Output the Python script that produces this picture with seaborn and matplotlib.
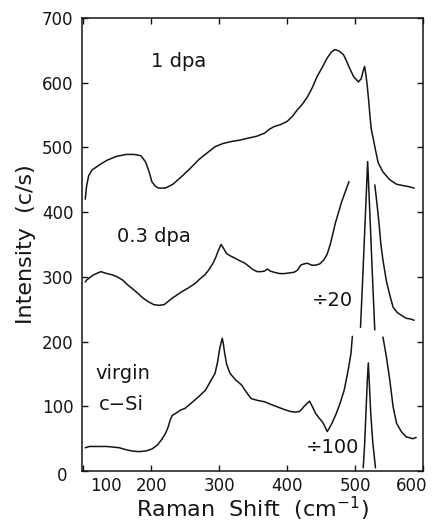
import pandas as pd
import seaborn as sns
import matplotlib
matplotlib.use("Agg")
import matplotlib.pyplot as plt
from matplotlib.transforms import ScaledTranslation

# 1 dpa spectrum
x_1dpa = [103, 105, 108, 113, 124, 135, 149, 163, 175, 185, 192, 197, 201, 206, 211, 221, 232, 245,
          258, 270, 282, 294, 306, 318, 330, 342, 355, 367, 374, 381, 390, 400, 408, 415, 422, 430,
          437, 444, 452, 459, 465, 470, 476, 483, 488, 492, 498, 505, 509, 512, 514, 516, 518, 520,
          522, 524, 527, 530, 534, 541, 551, 561, 570, 580, 587]
y_1dpa = [420, 440, 456, 465, 473, 480, 486, 489, 489, 487, 477, 462, 447, 440, 437, 437, 443, 455,
          468, 481, 491, 501, 506, 509, 511, 514, 517, 522, 528, 532, 535, 540, 548, 558, 566, 578,
          592, 609, 624, 638, 647, 651, 649, 643, 632, 622, 609, 601, 606, 618, 625, 612, 594, 572,
          547, 527, 512, 496, 476, 462, 450, 443, 441, 439, 437]

# 0.3 dpa spectrum (left part, right part, c-Si peak divided by 20)
x_03_left = [103, 105, 115, 126, 135, 143, 150, 158, 165, 172, 180, 187, 195, 204, 212, 219, 225, 231,
             238, 245, 255, 265, 272, 279, 285, 291, 295, 299, 303, 307, 311, 317, 323, 330, 338, 344,
             350, 356, 362, 367, 371, 375, 381, 389, 396, 403, 410, 415, 420, 425, 430, 436, 442, 448,
             454, 459, 464, 471, 480, 491]
y_03_left = [292, 295, 303, 308, 305, 303, 300, 295, 288, 282, 275, 268, 262, 257, 256, 257, 262, 267,
             272, 277, 283, 290, 297, 303, 311, 321, 330, 341, 350, 343, 336, 332, 329, 325, 321, 316,
             311, 308, 308, 309, 312, 309, 307, 305, 305, 306, 307, 310, 318, 320, 321, 318, 318, 320,
             326, 335, 352, 383, 415, 447]
x_03_right = [529, 532, 535, 538, 541, 546, 551, 556, 562, 569, 575, 581, 587]
y_03_right = [442, 415, 385, 350, 326, 294, 272, 253, 245, 240, 236, 235, 233]
x_03_div20 = [508, 511, 514, 517, 518.5, 520, 523, 526, 529]
y_03_div20 = [222, 292, 366, 440, 478, 442, 366, 290, 218]

# virgin c-Si spectrum (left part, right part, c-Si peak divided by 100)
x_vir_left = [103, 109, 120, 134, 145, 153, 163, 172, 182, 192, 201, 209, 215, 221, 225, 228, 231, 236,
              243, 250, 259, 270, 280, 288, 294, 298, 301, 304.5, 306, 308, 311, 316, 324, 333, 340,
              347, 357, 367, 376, 386, 396, 405, 412, 418, 422, 425, 429, 433, 437, 442, 447, 452, 456,
              459, 462, 466, 472, 478, 484, 488, 491, 494, 496]
y_vir_left = [36, 38, 38, 38, 37, 36, 33, 31, 30, 31, 34, 40, 48, 58, 68, 79, 86, 89,
              94, 97, 105, 115, 125, 140, 151, 170, 190, 205, 198, 183, 165, 151, 141, 133, 122,
              112, 109, 107, 103, 99, 95, 92, 91, 92, 96, 100, 104, 108, 100, 89, 82, 76, 68,
              61, 66, 74, 88, 105, 125, 146, 163, 182, 208]
x_vir_right = [541, 546, 551, 556, 561, 568, 575, 585, 590]
y_vir_right = [207, 177, 141, 99, 74, 61, 53, 50, 52]
x_vir_div100 = [512, 514, 516, 518, 519.5, 521, 523, 526, 530]
y_vir_div100 = [5, 40, 90, 140, 167, 135, 90, 45, 5]

x_ticks = [100, 200, 300, 400, 500, 600]
y_ticks = [0, 100, 200, 300, 400, 500, 600, 700]

segments = [
    (x_1dpa, y_1dpa), (x_03_left, y_03_left), (x_03_right, y_03_right), (x_03_div20, y_03_div20),
    (x_vir_left, y_vir_left), (x_vir_right, y_vir_right), (x_vir_div100, y_vir_div100),
]

sns.set_style("ticks")
plt.rcParams['font.family'] = ['DejaVu Sans']

fig = plt.figure(figsize=(4.33, 5.24), dpi=100)
ax = fig.add_axes([0.189, 0.101, 0.788, 0.865])

for xs, ys in segments:
    df = pd.DataFrame({"shift": xs, "intensity": ys})
    sns.lineplot(data=df, x="shift", y="intensity", sort=False, estimator=None,
                 color="#151515", linewidth=1.1, ax=ax)

ax.set_xlim(98, 600)
ax.set_ylim(0, 700)
ax.set_xticks(x_ticks)
ax.set_yticks(y_ticks)
ax.tick_params(direction="in", length=4, width=1, top=True, right=True,
               labelsize=12, colors="#151515")
ax.tick_params(axis="x", pad=4)
ax.tick_params(axis="y", pad=6)
for sp in ax.spines.values():
    sp.set_linewidth(1.1)
    sp.set_color("#151515")

# end labels sit inside the frame, as in the original
xlabels = ax.get_xticklabels()
xlabels[0].set_transform(xlabels[0].get_transform() + ScaledTranslation(0.23, 0, fig.dpi_scale_trans))
xlabels[-1].set_transform(xlabels[-1].get_transform() + ScaledTranslation(-0.11, 0, fig.dpi_scale_trans))
ylabels = ax.get_yticklabels()
ylabels[0].set_transform(ylabels[0].get_transform() + ScaledTranslation(-0.06, -0.03, fig.dpi_scale_trans))

ax.set_xlabel("Raman  Shift  (cm$^{-1}$)", fontsize=16, labelpad=0, color="#151515")
ax.set_ylabel("Intensity  (c/s)", fontsize=16, labelpad=4, color="#151515")

txt = dict(fontsize=14, color="#151515", ha="center", va="center")
ax.text(241, 633, "1 dpa", **txt)
ax.text(204, 362, "0.3 dpa", **txt)
ax.text(466, 264, "\u00f720", **txt)
ax.text(158, 150, "virgin", **txt)
ax.text(156, 103, "c\u2212Si", **txt)
ax.text(467, 36, "\u00f7100", **txt)

fig.savefig("out.png", dpi=100)
